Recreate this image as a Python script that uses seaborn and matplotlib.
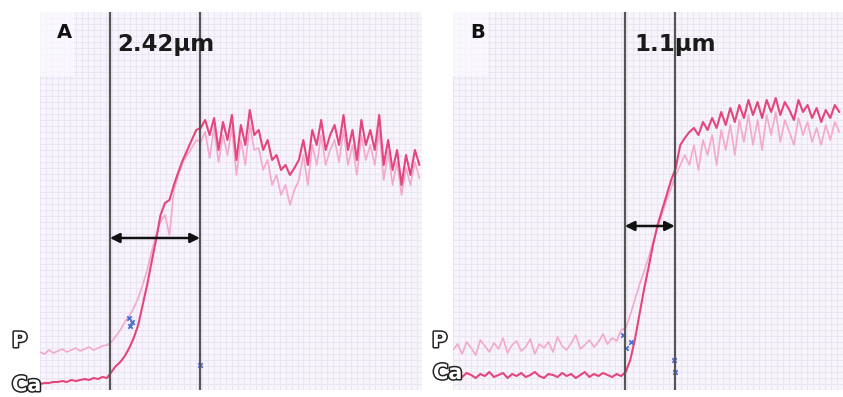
import numpy as np
import pandas as pd
import seaborn as sns
import matplotlib.pyplot as plt
import matplotlib.patheffects as pe
from matplotlib.patches import Rectangle

# EDS line scans across the interface (intensity in arbitrary counts)
# Panel A: scan step 0.12 um, Panel B: scan step 0.10 um
step_a = 0.12
step_b = 0.10

ca_a = [6, 7, 7, 8, 8, 9, 8, 10, 9, 10, 11, 10, 12, 11, 13, 12,
        18, 24, 28, 34, 42, 52, 65, 85, 105, 128, 150, 175, 187, 190,
        205, 218, 230, 240, 250, 260, 262, 270, 255, 272, 240, 268, 250,
        275, 230, 265, 245, 280, 255, 260, 240, 250, 230, 235, 220, 225,
        215, 222, 230, 250, 225, 260, 245, 270, 240, 255, 265, 245, 275,
        240, 260, 230, 270, 245, 260, 240, 275, 225, 250, 220, 240, 205,
        235, 215, 240, 225]
p_a = [38, 36, 40, 37, 39, 41, 38, 40, 42, 39, 41, 43, 40, 42, 44, 45,
       48, 54, 60, 68, 74, 82, 92, 105, 120, 138, 155, 168, 175, 155,
       200, 215, 228, 235, 242, 250, 248, 258, 232, 262, 228, 255, 235,
       262, 215, 250, 225, 265, 240, 242, 220, 230, 205, 215, 195, 205,
       185, 200, 210, 235, 205, 245, 225, 255, 225, 240, 250, 228, 260,
       225, 245, 215, 255, 230, 245, 225, 260, 210, 238, 205, 228, 195,
       222, 205, 228, 212]

ca_b = [14, 16, 13, 17, 15, 12, 16, 14, 18, 13, 15, 17, 12, 16, 14, 17,
        13, 15, 18, 14, 12, 16, 15, 13, 17, 14, 16, 12, 15, 18, 13, 16,
        14, 17, 15, 13, 16, 14,
        18, 30, 50, 75, 100, 122, 145, 165, 180, 195, 210, 222, 245, 252,
        258, 262, 255, 268, 260, 272, 262, 278, 265, 282, 268, 285, 272,
        290, 275, 288, 272, 290, 278, 292, 275, 288, 280, 270, 290, 278,
        285, 272, 282, 268, 280, 272, 285, 278]
p_b = [40, 46, 36, 48, 42, 35, 50, 44, 38, 47, 41, 52, 37, 45, 49, 39,
       43, 51, 36, 46, 42, 48, 38, 53, 44, 40, 47, 55, 41, 45, 50, 43,
       48, 56, 46, 52, 49, 60,
       62, 75, 90, 105, 118, 132, 148, 162, 176, 190, 202, 215, 225, 235,
       225, 245, 220, 250, 235, 255, 225, 260, 240, 265, 235, 270, 248,
       275, 245, 270, 240, 275, 255, 278, 248, 270, 258, 245, 272, 255,
       268, 248, 262, 245, 265, 250, 268, 258]

# interface limits (um) and measured widths
lines_a = [1.88, 4.30]
lines_b = [3.78, 4.88]
labels = ["2.42μm", "1.1μm"]

# small blue marks left by the detector overlay
blue_a_x = [2.38, 2.42, 2.47, 4.30]
blue_a_y = [72, 64, 68, 25]
blue_b_x = [3.74, 3.80, 3.92, 4.86, 4.88]
blue_b_y = [55, 42, 48, 30, 18]

sns.set_style("white")
plt.rcParams['font.family'] = ['DejaVu Sans']

fig = plt.figure(figsize=(8.43, 3.97), dpi=100)
ax_a = fig.add_axes([40 / 843, 7 / 397, 382 / 843, 378 / 397])
ax_b = fig.add_axes([453 / 843, 7 / 397, 390 / 843, 378 / 397])

panels = [
    (ax_a, step_a, ca_a, p_a, lines_a, labels[0], "A", 10.27, blue_a_x, blue_a_y, 0.161),
    (ax_b, step_b, ca_b, p_b, lines_b, labels[1], "B", 8.58, blue_b_x, blue_b_y, 0.132),
]

for ax, step, ca, p, vl, lab, letter, xmax, bx, by, gstep in panels:
    dist = np.arange(len(ca)) * step
    df = pd.DataFrame({"dist": dist, "Ca": ca, "P": p})
    ax.set_facecolor("#f7f4fc")
    # label box in the upper left corner
    ax.add_patch(Rectangle((0, 0.83), 0.09, 0.17, transform=ax.transAxes,
                           color="#fcfbff", zorder=2.5, lw=0, alpha=0.7))
    sns.lineplot(data=df, x="dist", y="P", ax=ax, color="#f2a9cd", lw=1.2, zorder=2)
    sns.lineplot(data=df, x="dist", y="Ca", ax=ax, color="#e4467c", lw=1.5, zorder=3)
    ax.scatter(bx, by, color="#4a6fd8", s=10, marker="x", lw=1.3, zorder=4)
    for v in vl:
        ax.axvline(v, color="#555555", lw=1.6, zorder=5)
    ax.annotate("", xy=(vl[0], 152 if letter == "A" else 164),
                xytext=(vl[1], 152 if letter == "A" else 164),
                arrowprops=dict(arrowstyle="<|-|>", color="#111111", lw=1.8,
                                mutation_scale=14, shrinkA=0, shrinkB=0), zorder=6)
    ax.text(vl[0] + 0.2, 345, lab, fontsize=16.5, fontweight="bold",
            color="#1a1a1a", ha="left", va="center", zorder=7)
    ax.text(0.045, 0.945, letter, transform=ax.transAxes, fontsize=14,
            fontweight="bold", color="#111111", ha="left", va="center", zorder=7)
    ax.set_xlim(0, xmax)
    ax.set_ylim(0, 378)
    ax.set_xticks(np.arange(0, xmax, gstep))
    ax.set_yticks(np.arange(0, 378, 6))
    ax.grid(True, color="#e9e2f2", lw=0.6, linestyle="-")
    ax.tick_params(length=0, labelbottom=False, labelleft=False)
    ax.set_xlabel("")
    ax.set_ylabel("")
    for s in ax.spines.values():
        s.set_visible(False)

# hollow element labels
outline = [pe.Stroke(linewidth=2.2, foreground="#222222"), pe.Normal()]
for x0 in [12 / 843, 432 / 843]:
    fig.text(x0, 1 - 341 / 397, "P", fontsize=15, fontweight="bold", color="white",
             ha="left", va="center", path_effects=outline)
for x0, y0 in [(12 / 843, 385 / 397), (433 / 843, 373 / 397)]:
    fig.text(x0, 1 - y0, "Ca", fontsize=15, fontweight="bold", color="white",
             ha="left", va="center", path_effects=outline)

fig.savefig("out.png", dpi=100, facecolor="white")
